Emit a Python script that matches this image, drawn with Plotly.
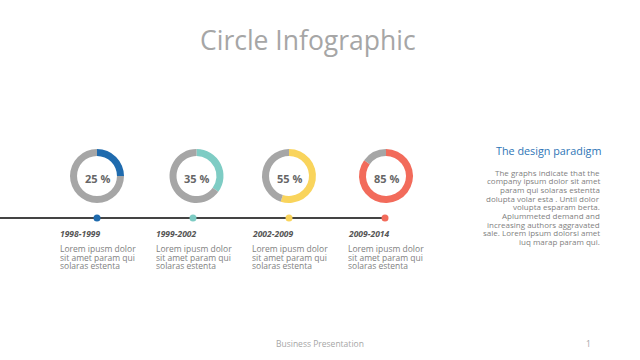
import plotly.graph_objects as go

# ---- data ----
periods = ["1998-1999", "1999-2002", "2002-2009", "2009-2014"]
percents = [25, 35, 55, 85]
descriptions = [
    ["Lorem ipusm dolor", "sit amet param qui", "solaras estenta"],
    ["Lorem ipusm dolor", "sit amet param qui", "solaras estenta"],
    ["Lorem ipusm dolor", "sit amet param qui", "solaras estenta"],
    ["Lorem ipusm dolor", "sit amet param qui", "solaras estenta"],
]
side_title = "The design paradigm"
side_lines = [
    "The graphs indicate that the",
    "company ipsum dolor sit amet",
    "param qui solaras estentta",
    "dolupta volar esta . Until dolor",
    "volupta esparam berta.",
    "Aplummeted demand and",
    "increasing authors aggravated",
    "sale. Lorem ipsum dolorsi amet",
    "iuq marap param qui.",
]

# ---- style / layout ----
W, H = 640, 360
colors = ["#1F6BAE", "#7ECCC4", "#F9D45C", "#F26B5B"]
ring_gray = "#A6A6A6"
font = "Open Sans"
cx = [97, 193, 289, 385]      # timeline slot centres (px)
donut_dx = [0, 3.5, 0, 1]
cy = 176
R = 27
line_y = 218

fig = go.Figure()

for i, (p, c) in enumerate(zip(percents, colors)):
    x0 = cx[i] + donut_dx[i]
    fig.add_trace(go.Pie(
        values=[p, 100 - p],
        marker=dict(colors=[c, ring_gray], line=dict(width=0)),
        hole=0.74, sort=False, direction="clockwise", rotation=0,
        textinfo="none", hoverinfo="skip", showlegend=False,
        domain=dict(x=[(x0 - R) / W, (x0 + R) / W],
                    y=[1 - (cy + R) / H, 1 - (cy - R) / H]),
    ))

# timeline line
fig.add_trace(go.Scatter(x=[0, cx[-1]], y=[line_y, line_y], mode="lines",
                         line=dict(color="#444444", width=2),
                         hoverinfo="skip", showlegend=False))
# dots
fig.add_trace(go.Scatter(x=cx, y=[line_y] * len(cx), mode="markers",
                         marker=dict(color=colors, size=7),
                         hoverinfo="skip", showlegend=False))

ann = []
for i, p in enumerate(percents):
    ann.append(dict(x=cx[i] + donut_dx[i], y=cy + 2, text=f"<b>{p} %</b>",
                    showarrow=False, font=dict(family=font, size=11, color="#666666")))
    ann.append(dict(x=cx[i] - 39.5, y=233, text=f"<b><i>{periods[i]}</i></b>",
                    showarrow=False, xanchor="left",
                    font=dict(family=font, size=8.5, color="#555555")))
    for j, line in enumerate(descriptions[i]):
        ann.append(dict(x=cx[i] - 39.5, y=248.5 + j * 8.7, text=line,
                        showarrow=False, xanchor="left",
                        font=dict(family=font, size=8.5, color="#7F7F7F")))

ann.append(dict(x=603, y=150, text=side_title, showarrow=False, xanchor="right",
                font=dict(family=font, size=10.8, color="#2E75B6")))
for j, line in enumerate(side_lines):
    ann.append(dict(x=602, y=172.3 + j * 8.65, text=line, showarrow=False,
                    xanchor="right", font=dict(family=font, size=8, color="#7F7F7F")))

ann.append(dict(x=308, y=40, text="Circle Infographic", showarrow=False,
                font=dict(family=font, size=26.5, color="#A6A6A6")))
ann.append(dict(x=320, y=343, text="Business Presentation", showarrow=False,
                font=dict(family=font, size=8.5, color="#A6A6A6")))
ann.append(dict(x=588, y=343, text="1", showarrow=False,
                font=dict(family=font, size=8.5, color="#A6A6A6")))

fig.update_layout(
    width=W, height=H, margin=dict(l=0, r=0, t=0, b=0),
    paper_bgcolor="white", plot_bgcolor="white",
    xaxis=dict(range=[0, W], visible=False, fixedrange=True),
    yaxis=dict(range=[H, 0], visible=False, fixedrange=True),
    annotations=ann, showlegend=False,
)

fig.write_html("out.html", config={"displayModeBar": False},
               post_script="document.body.style.margin='0';document.body.style.overflow='hidden';")
